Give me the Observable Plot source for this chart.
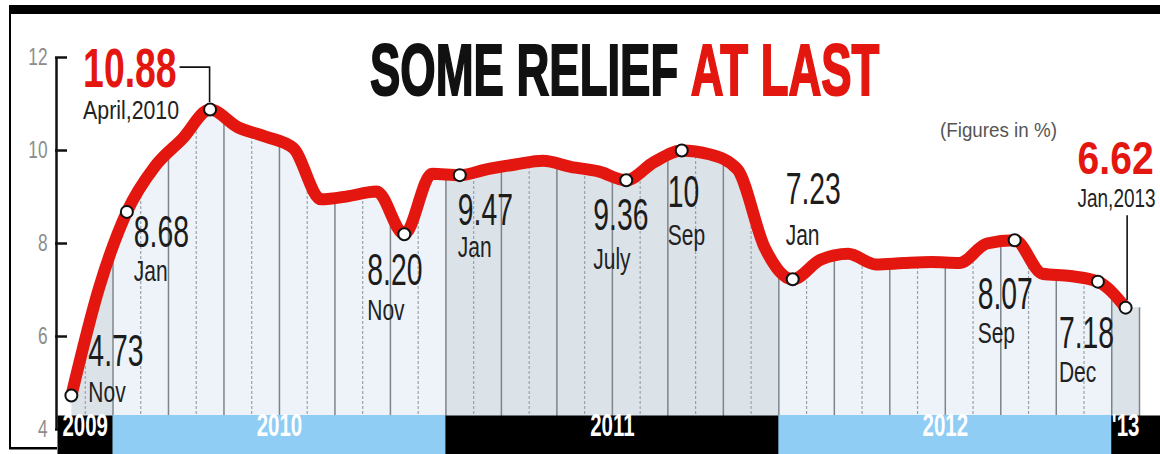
<!DOCTYPE html>
<html><head><meta charset="utf-8">
<script src="https://cdn.jsdelivr.net/npm/d3@7"></script>
<script src="https://cdn.jsdelivr.net/npm/@observablehq/plot@0.6"></script>
<style>
html,body{margin:0;padding:0;background:#fff;}
#chart{width:1160px;height:454px;position:relative;overflow:hidden;}
</style></head><body><div id="chart"></div>
<script>
// ---- data ----
const months = ["2009-11","2009-12",
  "2010-01","2010-02","2010-03","2010-04","2010-05","2010-06","2010-07","2010-08","2010-09","2010-10","2010-11","2010-12",
  "2011-01","2011-02","2011-03","2011-04","2011-05","2011-06","2011-07","2011-08","2011-09","2011-10","2011-11","2011-12",
  "2012-01","2012-02","2012-03","2012-04","2012-05","2012-06","2012-07","2012-08","2012-09","2012-10","2012-11","2012-12",
  "2013-01"];
const wpi = [4.73, 7.05,
  8.68, 9.65, 10.25, 10.88, 10.5, 10.3, 10.05, 8.95, 9.02, 9.12, 8.20, 9.5,
  9.47, 9.6, 9.7, 9.78, 9.65, 9.55, 9.36, 9.75, 10.0, 9.92, 9.6, 7.9,
  7.23, 7.65, 7.78, 7.55, 7.58, 7.6, 7.58, 8.0, 8.07, 7.35, 7.3, 7.18,
  6.62];
const years = ["2009","2010","2011","2012","2013"];
const yearLabels = ["2009","2010","2011","2012","'13"];
const yTicks = [4, 6, 8, 10, 12];
const callouts = [
  {month: "2009-11", value: "4.73", name: "Nov"},
  {month: "2010-01", value: "8.68", name: "Jan"},
  {month: "2010-11", value: "8.20", name: "Nov"},
  {month: "2011-01", value: "9.47", name: "Jan"},
  {month: "2011-07", value: "9.36", name: "July"},
  {month: "2011-09", value: "10", name: "Sep"},
  {month: "2012-01", value: "7.23", name: "Jan"},
  {month: "2012-09", value: "8.07", name: "Sep"},
  {month: "2012-12", value: "7.18", name: "Dec"}
];
const highlights = [
  {month: "2010-04", value: "10.88", name: "April,2010"},
  {month: "2013-01", value: "6.62", name: "Jan,2013"}
];
const titleParts = ["SOME RELIEF ", "AT LAST"];
const note = "(Figures in %)";

// ---- layout (code, not data) ----
const FONT = "'Liberation Sans', Arial, sans-serif";
const RED = "#e3170f";
const place = {
  "2009-11": {dx: 17, dy: -62, mdy: -15},
  "2010-01": {dx: 7, dy: 3, mdy: 48},
  "2010-11": {dx: -37, dy: 19, mdy: 64},
  "2011-01": {dx: -2, dy: 18, mdy: 61},
  "2011-07": {dx: -33, dy: 18, mdy: 67},
  "2011-09": {dx: -14, dy: 25, mdy: 73},
  "2012-01": {dx: -7, dy: -107, mdy: -56},
  "2012-09": {dx: -37, dy: 37, mdy: 81},
  "2012-12": {dx: -39, dy: 34, mdy: 79},
  "2010-04": {dx: -127, dy: -62, mdy: -9},
  "2013-01": {dx: 28, dy: -166, mdy: -118, anchor: "end", mdx: 30}
};

const data = months.map((m, i) => ({month: m, year: m.slice(0, 4), i, v: wpi[i]}));
const blueYears = new Set([years[1], years[3]]);
const spans = years.map((y, k) => {
  const idx = data.filter(d => d.year === y).map(d => d.i);
  return {year: y, label: yearLabels[k], x1: d3.min(idx), x2: d3.max(idx) + 1, blue: blueYears.has(y)};
});
const byMonth = new Map(data.map(d => [d.month, d]));
const first = data[0], last = data[data.length - 1];
const yMin = yTicks[0], yMax = yTicks[yTicks.length - 1];

function labelMarks(a, valueOpts, nameOpts) {
  const d = byMonth.get(a.month), p = place[a.month];
  const anchor = p.anchor || "start";
  return [
    Plot.text([d], {x: q => q.i + 0.5, y: "v", text: () => a.value, dx: p.dx, dy: p.dy,
      textAnchor: anchor, lineAnchor: "top", fontFamily: FONT, ...valueOpts}),
    Plot.text([d], {x: q => q.i + 0.5, y: "v", text: () => a.name, dx: p.mdx ?? p.dx, dy: p.mdy,
      textAnchor: anchor, lineAnchor: "top", fontFamily: FONT, ...nameOpts})
  ];
}

const svg = Plot.plot({
  width: 1160, height: 454,
  marginLeft: 57, marginRight: 0, marginTop: 57, marginBottom: 0,
  x: {domain: [0, months.length], range: [57, 1139], axis: null},
  y: {domain: [yMin, yMax], range: [429, 57], axis: null},
  style: {fontFamily: FONT, background: "white"},
  marks: [
    // month columns under the curve
    Plot.rect(data, {x1: d => d.i, x2: d => d.i + 1, y1: yMin, y2: yMax,
      fill: d => blueYears.has(d.year) ? "#edf3f9" : "#dbe2e8"}),
    Plot.ruleX(data.filter(d => d.i > 0 && d.i % 2 === 0), {x: "i", y1: yMin, y2: yMax, stroke: "#7d848b", strokeWidth: 1.5}),
    Plot.ruleX(data.filter(d => d.i % 2 === 1), {x: "i", y1: yMin, y2: yMax, stroke: "#98a0a8", strokeWidth: 1.2, strokeDasharray: "3,2"}),
    Plot.ruleX([last], {x: d => d.i + 1, y1: yMin, y2: "v", stroke: "#7d848b", strokeWidth: 1.5}),
    // white mask above the curve
    Plot.area(data, {x1: d => d.i + 0.5, y1: "v", y2: yMax, curve: "monotone-x", fill: "white"}),
    Plot.rect([first], {x1: d => d.i, x2: d => d.i + 0.5, y1: yMin, y2: yMax, fill: "white", insetRight: -0.5}),
    Plot.rect([last], {x1: d => d.i + 0.5, x2: d => d.i + 1, y1: "v", y2: yMax, fill: "white", insetLeft: -0.5, insetRight: -1}),
    // y axis
    Plot.ruleX([0], {y1: yMin, y2: yMax, stroke: "#111", strokeWidth: 2.5, dx: -1}),
    Plot.tickY(yTicks, {y: d => d, stroke: "#111", strokeWidth: 2.5, insetRight: 1160 - 57 - 12, dx: -2}),
    Plot.text(yTicks, {y: d => d, text: d => String(d), frameAnchor: "left", textAnchor: "end", dx: -10,
      fontSize: 24, fill: "#8c8c8c", fontFamily: FONT}),
    // year strip
    Plot.frame({fill: "black", stroke: "none", insetTop: 358}),
    Plot.rect(spans.filter(s => s.blue), {x1: "x1", x2: "x2", fill: "#8fcdf4", insetTop: 358}),
    Plot.text(spans, {x: d => (d.x1 + d.x2) / 2, text: "label", frameAnchor: "bottom", dy: -19,
      fill: "white", fontWeight: "bold", fontSize: 31, fontFamily: FONT}),
    // line and markers
    Plot.line(data, {x: d => d.i + 0.5, y: "v", curve: "monotone-x", stroke: RED, strokeWidth: 12, strokeLinecap: "round", strokeLinejoin: "round"}),
    Plot.dot([...callouts, ...highlights].map(a => byMonth.get(a.month)),
      {x: d => d.i + 0.5, y: "v", r: 6, fill: "white", stroke: "#111", strokeWidth: 2}),
    // labels
    ...callouts.flatMap(a => labelMarks(a, {fontSize: 45, fill: "#1c1c1c"}, {fontSize: 30, fill: "#222"})),
    ...labelMarks(highlights[0], {fontSize: 55, fontWeight: "bold", fill: RED}, {fontSize: 26, fill: "#222"}),
    ...labelMarks(highlights[1], {fontSize: 46, fontWeight: "bold", fill: RED}, {fontSize: 25, fill: "#222"})
  ]
});
document.getElementById("chart").append(svg);

const s = d3.select(svg);
// condense a text horizontally about its own anchor point (vertical offsets untouched)
function condense(el, f) {
  const xa = el.getAttribute("x");
  const x = xa !== null && isFinite(+xa) ? +xa : 0;
  if (xa !== null && isFinite(+xa)) el.removeAttribute("x");
  const t = el.getAttribute("transform") || "";
  el.setAttribute("transform", `${t} translate(${x},0) scale(${f.toFixed(3)},1)`.trim());
}
const squeeze = {"45": 0.63, "30": 0.7, "31": 0.66, "55": 0.68, "46": 0.85, "25": 0.76, "26": 0.82, "24": 0.72};
s.selectAll("text").each(function () {
  const fs = String(Math.round(parseFloat(getComputedStyle(this).fontSize)));
  const f = squeeze[fs];
  if (f) condense(this, f);
});

// scales from the plot
const xs = svg.scale("x"), ys = svg.scale("y");
const fx = xs.apply ? v => xs.apply(v) : d3.scaleLinear(xs.domain, xs.range);
const fy = ys.apply ? v => ys.apply(v) : d3.scaleLinear(ys.domain, ys.range);

// leader lines
const h0 = byMonth.get(highlights[0].month), h1 = byMonth.get(highlights[1].month);
const p0 = [fx(h0.i + 0.5), fy(h0.v)], p1 = [fx(h1.i + 0.5), fy(h1.v)];
const leaders = s.append("g").attr("fill", "none").attr("stroke", "#111").attr("stroke-width", 1.6);
leaders.append("polyline").attr("points", [[p0[0] - 30, p0[1] - 42], [p0[0], p0[1] - 42], [p0[0], p0[1] - 7]].join(" "));
leaders.append("polyline").attr("points", [[p1[0] + 2, p1[1] - 92], [p1[0] + 2, p1[1] - 7]].join(" "));
s.selectAll("g[aria-label=dot]").raise();
s.selectAll("g[aria-label=text]").raise();

// title (one text, two colours) and note, fitted to width
const titleG = s.append("g").attr("text-anchor", "start").attr("font-family", FONT);
const tt = titleG.append("text").attr("x", 370).attr("y", 95).attr("font-weight", "bold")
  .attr("font-size", 73).attr("stroke-width", 2);
tt.append("tspan").attr("fill", "#111").attr("stroke", "#111").text(titleParts[0]);
tt.append("tspan").attr("fill", RED).attr("stroke", RED).text(titleParts[1]);
condense(tt.node(), 508 / tt.node().getComputedTextLength());
const nt = titleG.append("text").attr("x", 940).attr("y", 137).attr("font-size", 20)
  .attr("fill", "#555").text(note);
condense(nt.node(), 117 / nt.node().getComputedTextLength());

// borders
s.append("rect").attr("x", 10).attr("y", 5).attr("width", 1150).attr("height", 9).attr("fill", "#000");
s.append("rect").attr("x", 9).attr("y", 5).attr("width", 2).attr("height", 444).attr("fill", "#000");
s.append("rect").attr("x", 9).attr("y", 447).attr("width", 48).attr("height", 2.5).attr("fill", "#000");
</script></body></html>
